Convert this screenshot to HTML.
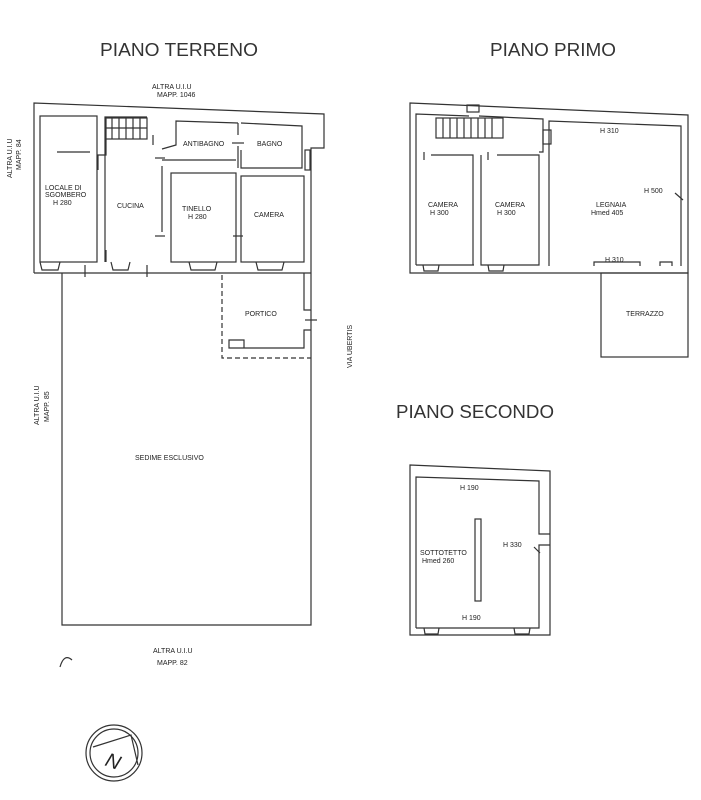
<!DOCTYPE html>
<html><head><meta charset="utf-8"><style>
html,body{margin:0;padding:0;background:#fff;width:701px;height:800px;overflow:hidden}
svg{display:block}
text{font-family:"Liberation Sans",sans-serif;fill:#222}
.s{font-size:7px}
.t{fill:#333}
</style></head><body>
<svg width="701" height="800" viewBox="0 0 701 800" xmlns="http://www.w3.org/2000/svg">
<g fill="none" stroke="#333" stroke-width="1.2">
<polyline points="34,273 34,103 324,114 324,148 311,148 311,625 62,625 62,273"/>
<line x1="34" y1="273" x2="311" y2="273"/>
<rect x="40" y="116" width="57" height="146"/>
<line x1="57" y1="152" x2="90" y2="152"/>
<polyline points="105,262 105,117 147,117"/>
<rect x="106" y="118" width="41" height="21"/>
<line x1="112" y1="118" x2="112" y2="139"/><line x1="119" y1="118" x2="119" y2="139"/><line x1="126" y1="118" x2="126" y2="139"/><line x1="133" y1="118" x2="133" y2="139"/><line x1="140" y1="118" x2="140" y2="139"/>
<line x1="106" y1="128" x2="147" y2="128"/>
<polyline points="106,139 106,155 98,155 98,170"/>
<line x1="153" y1="135" x2="153" y2="145"/>
<polyline points="162,149 176,145 176,121 238,123"/>
<polyline points="241,123 302,126 302,168 241,168 241,150"/>
<line x1="238" y1="123" x2="238" y2="135"/>
<line x1="238" y1="146" x2="238" y2="168"/>
<polyline points="162,160 236,160"/>
<polyline points="162,166 162,232"/>
<rect x="171" y="173" width="65" height="89"/>
<rect x="241" y="176" width="63" height="86"/>
<line x1="155" y1="236" x2="165" y2="236"/>
<line x1="233" y1="236" x2="243" y2="236"/>
<line x1="232" y1="143" x2="244" y2="143"/>
<line x1="155" y1="158" x2="165" y2="158"/>
<polyline points="106,250 106,262"/>
<polyline points="40,262 42,270 58,270 60,262"/>
<polyline points="111,262 113,270 128,270 130,262"/>
<polyline points="189,262 191,270 215,270 217,262"/>
<polyline points="256,262 258,270 282,270 284,262"/>
<line x1="85" y1="265" x2="85" y2="277"/><line x1="147" y1="265" x2="147" y2="277"/>
<polyline points="304,273 304,310 311,310"/>
<polyline points="311,330 304,330 304,348 244,348 244,340 229,340 229,348 244,348"/>
<line x1="305" y1="320" x2="317" y2="320"/>
<g stroke-dasharray="5,3"><polyline points="222,275 222,358 311,358"/></g>
<rect x="305" y="150" width="5" height="20"/>
<polygon points="410,103 688,115 688,273 410,273"/>
<polyline points="416,265 416,114 469,116"/>
<rect x="467" y="105" width="12" height="7"/>
<polyline points="479,116 543,119 543,152 539,152"/>
<rect x="436" y="118" width="67" height="20"/>
<line x1="443" y1="118" x2="443" y2="138"/><line x1="450" y1="118" x2="450" y2="138"/><line x1="457" y1="118" x2="457" y2="138"/><line x1="464" y1="118" x2="464" y2="138"/><line x1="471" y1="118" x2="471" y2="138"/><line x1="478" y1="118" x2="478" y2="138"/><line x1="485" y1="118" x2="485" y2="138"/><line x1="492" y1="118" x2="492" y2="138"/>
<rect x="543" y="130" width="8" height="14"/>
<polyline points="431,155 473,155 473,265"/>
<polyline points="497,155 539,155 539,265 481,265 481,155"/>
<line x1="424" y1="152" x2="424" y2="160"/><line x1="488" y1="152" x2="488" y2="160"/>
<polyline points="549,266 549,121 681,126 681,266"/>
<line x1="416" y1="265" x2="474" y2="265"/>
<polyline points="423,265 424,271 438,271 439,265"/>
<polyline points="488,265 489,271 503,271 504,265"/>
<polyline points="594,266 594,262 640,262 640,266"/>
<polyline points="660,266 660,262 672,262 672,266"/>
<polyline points="675,193 683,200"/>
<rect x="601" y="273" width="87" height="84"/>
<polygon points="410,465 550,471 550,635 410,635"/>
<polyline points="416,628 416,477 539,481 539,534 550,534"/>
<polyline points="550,545 539,545 539,628 416,628"/>
<rect x="475" y="519" width="6" height="82"/>
<polyline points="534,547 540,553"/>
<polyline points="424,628 425,634 438,634 439,628"/>
<polyline points="514,628 515,634 529,634 530,628"/>
<circle cx="114" cy="753" r="28"/>
<circle cx="114" cy="753" r="24"/>
<polyline points="93,747 131,735 138,765"/>
<path d="M60,667 Q64,653 72,660"/>
</g>
<text class="t" x="100" y="56" font-size="18" textLength="158" lengthAdjust="spacingAndGlyphs">PIANO TERRENO</text>
<text class="t" x="490" y="56" font-size="18" textLength="126" lengthAdjust="spacingAndGlyphs">PIANO PRIMO</text>
<text class="t" x="396" y="418" font-size="18" textLength="158" lengthAdjust="spacingAndGlyphs">PIANO SECONDO</text>
<text class="s" x="152" y="89">ALTRA U.I.U</text>
<text class="s" x="157" y="97">MAPP. 1046</text>
<text class="s" x="153" y="653">ALTRA U.I.U</text>
<text class="s" x="157" y="665">MAPP. 82</text>
<text class="s" x="135" y="460">SEDIME ESCLUSIVO</text>
<text class="s" transform="translate(12,178) rotate(-90)">ALTRA U.I.U</text>
<text class="s" transform="translate(21,170) rotate(-90)">MAPP. 84</text>
<text class="s" transform="translate(39,425) rotate(-90)">ALTRA U.I.U</text>
<text class="s" transform="translate(49,422) rotate(-90)">MAPP. 85</text>
<text class="s" transform="translate(352,368) rotate(-90)">VIA UBERTIS</text>
<text class="s" x="45" y="190">LOCALE DI</text>
<text class="s" x="45" y="197">SGOMBERO</text>
<text class="s" x="53" y="205">H 280</text>
<text class="s" x="117" y="208">CUCINA</text>
<text class="s" x="182" y="211">TINELLO</text>
<text class="s" x="188" y="219">H 280</text>
<text class="s" x="254" y="217">CAMERA</text>
<text class="s" x="183" y="146">ANTIBAGNO</text>
<text class="s" x="257" y="146">BAGNO</text>
<text class="s" x="245" y="316">PORTICO</text>
<text class="s" x="428" y="207">CAMERA</text>
<text class="s" x="430" y="215">H 300</text>
<text class="s" x="495" y="207">CAMERA</text>
<text class="s" x="497" y="215">H 300</text>
<text class="s" x="596" y="207">LEGNAIA</text>
<text class="s" x="591" y="215">Hmed 405</text>
<text class="s" x="600" y="133">H 310</text>
<text class="s" x="644" y="193">H 500</text>
<text class="s" x="605" y="262">H 310</text>
<text class="s" x="626" y="316">TERRAZZO</text>
<text class="s" x="460" y="490">H 190</text>
<text class="s" x="420" y="555">SOTTOTETTO</text>
<text class="s" x="422" y="563">Hmed 260</text>
<text class="s" x="503" y="547">H 330</text>
<text class="s" x="462" y="620">H 190</text>
<text x="106" y="768" font-size="20" font-style="italic" font-family="Liberation Serif" transform="rotate(20 113 761)">N</text>
</svg>
</body></html>
